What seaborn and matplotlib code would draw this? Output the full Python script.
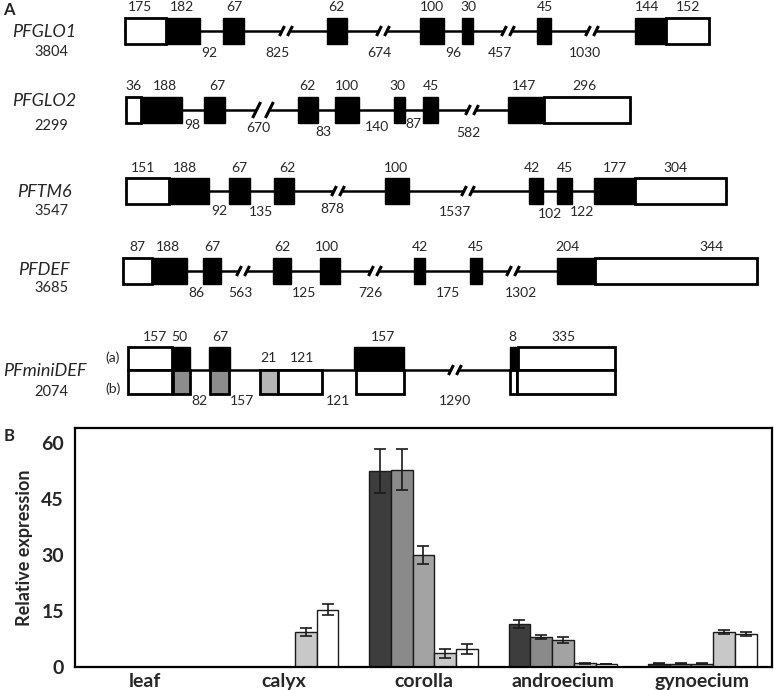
import numpy as np
import pandas as pd
import matplotlib.pyplot as plt
import seaborn as sns
from matplotlib.patches import Rectangle

# ---------------- panel B data ----------------
tissues = ['leaf', 'calyx', 'corolla', 'androecium', 'gynoecium']
series = ['PFGLO1', 'PFGLO2', 'PFTM6', 'PFDEF', 'PFminiDEF']
glo1_val = [0, 0, 52.5, 11.5, 0.9]
glo1_err = [0, 0, 6.0, 1.0, 0.1]
glo2_val = [0, 0, 52.8, 8.0, 0.9]
glo2_err = [0, 0, 5.5, 0.5, 0.1]
tm6_val = [0, 0, 30.0, 7.2, 0.9]
tm6_err = [0, 0, 2.3, 0.8, 0.1]
def_val = [0, 9.4, 3.7, 1.0, 9.4]
def_err = [0, 1.1, 1.2, 0.2, 0.5]
mini_val = [0, 15.3, 4.8, 0.8, 8.8]
mini_err = [0, 1.5, 1.4, 0.1, 0.6]
bar_colors = ['#3d3d3d', '#8a8a8a', '#a3a3a3', '#c8c8c8', '#ffffff']
yticks = [0, 15, 30, 45, 60]

# ---------------- panel A layout (schematic, pixel units) ----------------
# exon boxes: (start, end, fill)   'w' = UTR, 'k' = coding
glo1 = dict(name='PFGLO1', size='3804', y=31, name_y=32, size_y=52,
            exons=[(125, 166, 'w'), (166, 200, 'k'), (223, 244, 'k'), (327, 347, 'k'), (420, 444, 'k'),
                   (462, 473, 'k'), (537, 551, 'k'), (635, 666, 'k'), (666, 709, 'w')],
            breaks=[(286, 1), (383, 1), (508, 1), (592, 1)],
            top=[('175', 140), ('182', 182), ('67', 234), ('62', 336), ('100', 432), ('30', 468),
                 ('45', 545), ('144', 647), ('152', 688)], top_y=7,
            bottom=[('92', 209, 53), ('825', 277, 53), ('674', 379, 53), ('96', 453, 53),
                    ('457', 500, 53), ('1030', 585, 53)])
glo2 = dict(name='PFGLO2', size='2299', y=110, name_y=101, size_y=126,
            exons=[(126, 141, 'w'), (141, 182, 'k'), (204, 225, 'k'), (298, 318, 'k'), (335, 359, 'k'),
                   (394, 405, 'k'), (423, 438, 'k'), (508, 544, 'k'), (544, 630, 'w')],
            breaks=[(263, 1.6), (472, 1)],
            top=[('36', 133), ('188', 165), ('67', 217), ('62', 307), ('100', 347), ('30', 397),
                 ('45', 431), ('147', 524), ('296', 584)], top_y=86,
            bottom=[('98', 192, 125), ('670', 258, 128), ('83', 323, 132), ('140', 377, 127),
                    ('87', 413, 124), ('582', 468, 133)])
tm6 = dict(name='PFTM6', size='3547', y=191, name_y=192, size_y=211,
           exons=[(126, 169, 'w'), (169, 209, 'k'), (229, 250, 'k'), (274, 294, 'k'), (385, 409, 'k'),
                  (529, 543, 'k'), (557, 572, 'k'), (594, 635, 'k'), (635, 726, 'w')],
           breaks=[(338, 1), (468, 1)],
           top=[('151', 143), ('188', 185), ('67', 239), ('62', 287), ('100', 396), ('42', 532),
                ('45', 565), ('177', 615), ('304', 675)], top_y=168,
           bottom=[('92', 219, 211), ('135', 261, 212), ('878', 332, 209), ('1537', 455, 212),
                   ('102', 550, 214), ('122', 582, 212)])
pfdef = dict(name='PFDEF', size='3685', y=271, name_y=270, size_y=288,
             exons=[(123, 152, 'w'), (152, 187, 'k'), (203, 221, 'k'), (273, 291, 'k'), (320, 340, 'k'),
                    (414, 425, 'k'), (470, 482, 'k'), (557, 595, 'k'), (595, 757, 'w')],
             breaks=[(243, 1), (375, 1), (513, 1)],
             top=[('87', 137), ('188', 168), ('67', 212), ('62', 282), ('100', 327), ('42', 420),
                  ('45', 476), ('204', 567), ('344', 712)], top_y=247,
             bottom=[('86', 196, 293), ('563', 240, 293), ('125', 304, 293), ('726', 370, 293),
                     ('175', 448, 293), ('1302', 521, 293)])

# PFminiDEF: two splice forms (a) upper row, (b) lower row
mini_y = 370
mini_a = [(128, 172, 'w'), (172, 190, 'k'), (209, 230, 'k'), (354, 404, 'k'), (510, 518, 'k'), (518, 615, 'w')]
mini_b = [(128, 172, 'w'), (173, 190, '#8c8c8c'), (210, 229, '#8c8c8c'), (260, 278, '#b5b5b5'),
          (278, 322, 'w'), (356, 404, 'w'), (510, 517, 'w'), (517, 615, 'w')]
mini_top = [('157', 155, 337), ('50', 179, 337), ('67', 220, 337), ('21', 268, 358), ('121', 302, 358),
            ('157', 383, 337), ('8', 512, 337), ('335', 563, 337)]
mini_bottom = [('82', 199, 401), ('157', 242, 401), ('121', 338, 401), ('1290', 455, 401)]

W, H = 774, 690
fig = plt.figure(figsize=(W / 100, H / 100), dpi=100)
sns.set_style('white')
plt.rcParams['font.family'] = ['Lato', 'DejaVu Sans']

# ---------------- panel A ----------------
axa = fig.add_axes([0, 1 - 410 / H, 1, 410 / H])
axa.set_xlim(0, W)
axa.set_ylim(410, 0)
axa.axis('off')

num_fs = 10
name_fs = 13
BOX_H = 26


def draw_break(ax, x, y, s=1.0):
    sep = 4 * s
    ax.plot([x - sep, x + sep], [y, y], color='white', lw=3, zorder=3, solid_capstyle='butt')
    for dx in (-sep, sep):
        ax.plot([x + dx - 2.5 * s, x + dx + 2.5 * s], [y + 5 * s, y - 5 * s],
                color='black', lw=2.2, zorder=4, solid_capstyle='butt')


def draw_box(ax, x0, x1, y0, y1, fill):
    if fill == 'k':
        ax.add_patch(Rectangle((x0, y0), x1 - x0, y1 - y0, facecolor='black', edgecolor='black',
                               lw=1, zorder=5))
    else:
        fc = 'white' if fill == 'w' else fill
        ax.add_patch(Rectangle((x0, y0), x1 - x0, y1 - y0, facecolor=fc, edgecolor='black',
                               lw=2, zorder=4))


for g in [glo1, glo2, tm6, pfdef]:
    y = g['y']
    xs = [e[0] for e in g['exons']] + [e[1] for e in g['exons']]
    axa.plot([min(xs), max(xs)], [y, y], color='black', lw=1.8, zorder=2)
    for x0, x1, f in g['exons']:
        draw_box(axa, x0, x1, y - BOX_H / 2, y + BOX_H / 2, f)
    for bx, s in g['breaks']:
        draw_break(axa, bx, y, s)
    for t, x in g['top']:
        axa.text(x, g['top_y'], t, ha='center', va='center', fontsize=num_fs)
    for t, x, ty in g['bottom']:
        axa.text(x, ty, t, ha='center', va='center', fontsize=num_fs)
    axa.text(44, g['name_y'], g['name'], ha='center', va='center', fontsize=name_fs, style='italic')
    axa.text(51, g['size_y'], g['size'], ha='center', va='center', fontsize=num_fs + 0.5)

# PFminiDEF
axa.plot([128, 615], [mini_y, mini_y], color='black', lw=1.8, zorder=2)
for x0, x1, f in mini_a:
    draw_box(axa, x0, x1, 347, mini_y, f)
for x0, x1, f in mini_b:
    draw_box(axa, x0, x1, mini_y, 394, f)
draw_break(axa, 455, mini_y, 1)
for t, x, ty in mini_top + mini_bottom:
    axa.text(x, ty, t, ha='center', va='center', fontsize=num_fs)
axa.text(113, 358, '(a)', ha='center', va='center', fontsize=num_fs)
axa.text(113, 389, '(b)', ha='center', va='center', fontsize=num_fs)
axa.text(45, 371, 'PFminiDEF', ha='center', va='center', fontsize=name_fs, style='italic')
axa.text(51, 392, '2074', ha='center', va='center', fontsize=num_fs + 0.5)

fig.text(3 / W, 1 - 10 / H, 'A', fontsize=12, fontweight='bold', va='center', ha='left')
fig.text(4 / W, 1 - 436 / H, 'B', fontsize=12, fontweight='bold', va='center', ha='left')

# ---------------- panel B ----------------
vals = [glo1_val, glo2_val, tm6_val, def_val, mini_val]
errs = [glo1_err, glo2_err, tm6_err, def_err, mini_err]
df = pd.DataFrame({
    'tissue': np.tile(tissues, len(series)),
    'gene': np.repeat(series, len(tissues)),
    'value': np.concatenate(vals),
})

axb = fig.add_axes([75 / W, 23 / H, 697 / W, 239 / H])
sns.barplot(data=df, x='tissue', y='value', hue='gene', order=tissues, hue_order=series,
            palette=bar_colors, saturation=1, width=0.78, edgecolor='#1a1a1a', linewidth=1.0,
            errorbar=None, legend=False, ax=axb)
for cont, err in zip(axb.containers, errs):
    for bar, e in zip(cont, err):
        if e > 0:
            axb.errorbar(bar.get_x() + bar.get_width() / 2, bar.get_height(), yerr=e,
                         color='#1a1a1a', lw=1.2, capsize=4.5, capthick=1.2, zorder=5)

axb.set_ylim(0, 64)
axb.set_yticks(yticks)
axb.set_xlim(-0.5, 4.5)
axb.set_xlabel('')
axb.set_ylabel('Relative expression', fontsize=13, fontweight='bold')
axb.yaxis.set_label_coords(-0.06, 0.5)
axb.tick_params(axis='both', length=0, labelsize=14)
axb.tick_params(axis='y', pad=8)
axb.tick_params(axis='x', pad=4)
for lab in axb.get_xticklabels() + axb.get_yticklabels():
    lab.set_fontweight('bold')
for sp in axb.spines.values():
    sp.set_visible(True)
    sp.set_color('black')
    sp.set_linewidth(1.6)

fig.savefig('out.png', dpi=100)
